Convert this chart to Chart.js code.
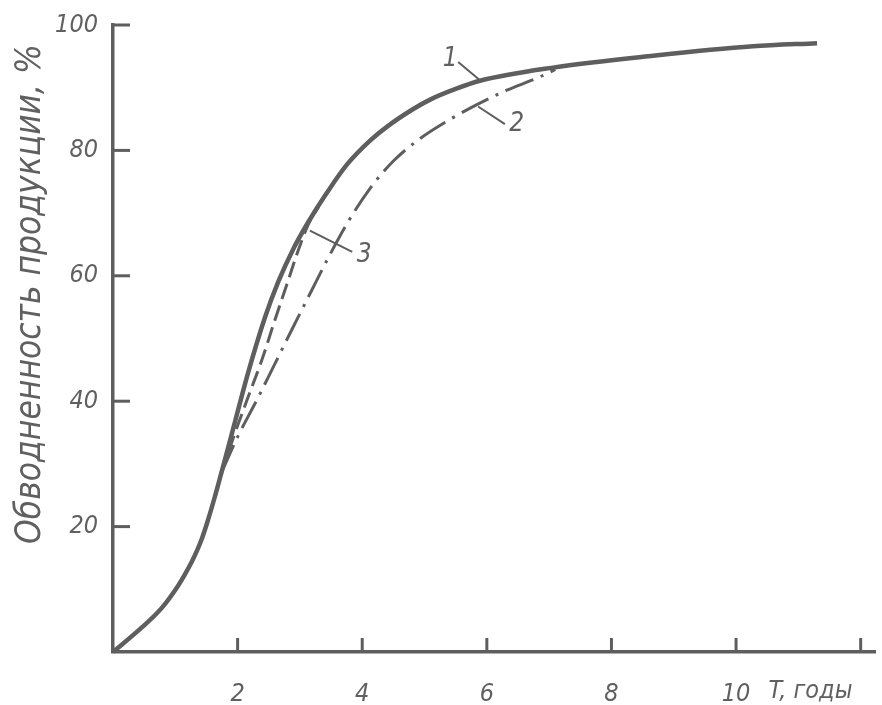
<!DOCTYPE html>
<html>
<head>
<meta charset="utf-8">
<script src="https://cdn.jsdelivr.net/npm/chart.js@4.4.1/dist/chart.umd.min.js"></script>
<style>
html, body { margin: 0; padding: 0; background: #fff; }
#wrap { width: 882px; height: 705px; }
</style>
</head>
<body>
<div id="wrap"><canvas id="chart" width="882" height="705"></canvas></div>
<script>
// Curve 1 (solid)
var curve1X = [0, 0.45, 0.78, 1.04, 1.15, 1.26, 1.35, 1.42, 1.52, 1.63, 1.74, 1.8, 1.96, 2.17, 2.44, 2.65, 2.9, 3.13, 3.43, 3.76, 4.13, 4.4, 4.82, 5.09, 5.5, 5.89, 7.06, 8.67, 10.27, 11.3];
var curve1Y = [0, 3.8, 7.0, 10.5, 12.3, 14.3, 16.2, 17.9, 20.9, 24.6, 28.6, 30.8, 36.8, 44.6, 53.4, 59.0, 64.4, 68.5, 73.2, 77.8, 81.6, 83.8, 86.6, 88.1, 89.8, 91.1, 93.2, 95.1, 96.6, 97.1];
// Curve 2 (dash-dot)
var curve2X = [1.74, 2.0, 2.33, 2.55, 2.87, 3.19, 3.43, 3.76, 4.13, 4.5, 4.93, 5.35, 5.84, 6.32, 6.8, 7.1];
var curve2Y = [28.6, 34.3, 40.6, 45.0, 51.4, 57.7, 62.4, 68.4, 74.0, 78.3, 81.9, 84.6, 87.3, 89.6, 91.5, 92.9];
// Curve 3 (dashed)
var curve3X = [1.74, 1.96, 2.17, 2.39, 2.6, 2.81, 2.95, 3.13, 3.3];
var curve3Y = [28.6, 35.0, 40.7, 46.6, 53.0, 59.2, 63.4, 68.1, 71.0];

var xTicks = [2, 4, 6, 8, 10, 12];
var xTickLabels = ['2', '4', '6', '8', '10', ''];
var yTicks = [20, 40, 60, 80, 100];
var yTickLabels = ['20', '40', '60', '80', '100'];
var yTitle = 'Обводненность продукции, %';
var xTitle = 'T, годы';

// Curve number labels and their leader lines, in data units
var curveLabels = [
    { text: '1', x: 5.41, y: 94.6, from: [5.54, 94.1], to: [5.89, 91.2] },
    { text: '2', x: 6.48, y: 84.2, from: [5.86, 87.0], to: [6.29, 84.2] },
    { text: '3', x: 4.03, y: 63.2, from: [3.16, 67.2], to: [3.84, 63.8] }
];

var inkColor = '#5e5e5e';
var textColor = '#606060';
var fontFamily = "'DejaVu Sans Condensed', 'Liberation Sans Narrow', 'DejaVu Sans', sans-serif";

function toPoints(xs, ys) {
    var pts = [];
    for (var i = 0; i < xs.length; i++) {
        pts.push({ x: xs[i], y: ys[i] });
    }
    return pts;
}

var drawingPlugin = {
    id: 'drawing',
    afterDraw: function (chart) {
        var ctx = chart.ctx;
        var xs = chart.scales.x;
        var ys = chart.scales.y;
        var area = chart.chartArea;
        ctx.save();
        ctx.strokeStyle = inkColor;
        ctx.lineCap = 'butt';

        // Ticks pointing into the plot
        ctx.lineWidth = 3;
        for (var i = 0; i < yTicks.length; i++) {
            var py = ys.getPixelForValue(yTicks[i]);
            ctx.beginPath();
            ctx.moveTo(area.left, py);
            ctx.lineTo(area.left + 17, py);
            ctx.stroke();
        }
        for (var j = 0; j < xTicks.length; j++) {
            var px = xs.getPixelForValue(xTicks[j]);
            ctx.beginPath();
            ctx.moveTo(px, area.bottom);
            ctx.lineTo(px, area.bottom - 14);
            ctx.stroke();
        }

        // Leader lines and curve numbers
        ctx.lineWidth = 2;
        ctx.fillStyle = textColor;
        ctx.font = 'italic 26px ' + fontFamily;
        ctx.textAlign = 'center';
        ctx.textBaseline = 'middle';
        for (var k = 0; k < curveLabels.length; k++) {
            var lb = curveLabels[k];
            ctx.beginPath();
            ctx.moveTo(xs.getPixelForValue(lb.from[0]), ys.getPixelForValue(lb.from[1]));
            ctx.lineTo(xs.getPixelForValue(lb.to[0]), ys.getPixelForValue(lb.to[1]));
            ctx.stroke();
            ctx.fillText(lb.text, xs.getPixelForValue(lb.x), ys.getPixelForValue(lb.y));
        }

        // X axis caption, on the tick label line
        ctx.font = 'italic 25px ' + fontFamily;
        ctx.textAlign = 'left';
        ctx.fillText(xTitle, xs.getPixelForValue(10.52), area.bottom + 39);

        // Y axis caption, rotated
        ctx.font = 'italic 35px ' + fontFamily;
        ctx.translate(31, 294);
        ctx.rotate(-Math.PI / 2);
        ctx.textAlign = 'center';
        ctx.fillText(yTitle, 0, 0);
        ctx.restore();
    }
};

var canvas = document.getElementById('chart');
new Chart(canvas, {
    type: 'line',
    data: {
        datasets: [
            {
                label: '2',
                data: toPoints(curve2X, curve2Y),
                borderColor: inkColor,
                borderWidth: 3,
                borderDash: [30, 8, 3, 8],
                pointRadius: 0,
                cubicInterpolationMode: 'monotone',
                clip: false
            },
            {
                label: '3',
                data: toPoints(curve3X, curve3Y),
                borderColor: inkColor,
                borderWidth: 3,
                borderDash: [16, 7],
                pointRadius: 0,
                cubicInterpolationMode: 'monotone',
                clip: false
            },
            {
                label: '1',
                data: toPoints(curve1X, curve1Y),
                borderColor: inkColor,
                borderWidth: 4.5,
                pointRadius: 0,
                cubicInterpolationMode: 'monotone',
                clip: false
            }
        ]
    },
    options: {
        responsive: false,
        animation: false,
        devicePixelRatio: 1,
        layout: { padding: { top: 25, right: 7, left: 0, bottom: 0 } },
        plugins: { legend: { display: false }, tooltip: { enabled: false } },
        scales: {
            x: {
                type: 'linear',
                min: 0,
                max: 12.23,
                afterBuildTicks: function (scale) {
                    scale.ticks = xTicks.map(function (v) { return { value: v }; });
                },
                afterFit: function (scale) { scale.height = 53; },
                grid: { display: false },
                border: { display: true, color: inkColor, width: 3.5 },
                ticks: {
                    padding: 19,
                    maxRotation: 0,
                    color: textColor,
                    font: { family: fontFamily, size: 25, style: 'italic' },
                    callback: function (value, index) { return xTickLabels[index]; }
                }
            },
            y: {
                type: 'linear',
                min: 0,
                max: 100,
                afterBuildTicks: function (scale) {
                    scale.ticks = yTicks.map(function (v) { return { value: v }; });
                },
                afterFit: function (scale) { scale.width = 113; },
                grid: { display: false },
                border: { display: true, color: inkColor, width: 3.5 },
                ticks: {
                    padding: 7,
                    color: textColor,
                    font: { family: fontFamily, size: 25, style: 'italic' },
                    callback: function (value, index) { return yTickLabels[index]; }
                }
            }
        }
    },
    plugins: [drawingPlugin]
});
</script>
</body>
</html>
